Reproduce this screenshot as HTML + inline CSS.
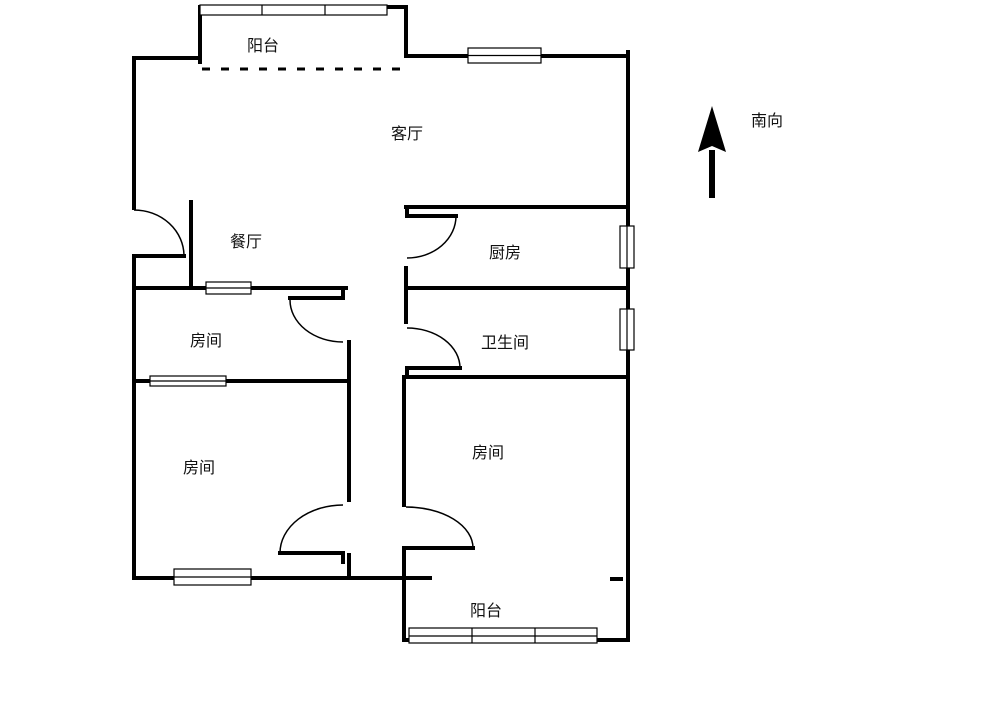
<!DOCTYPE html>
<html><head><meta charset="utf-8"><style>
html,body{margin:0;padding:0;background:#fff;}
svg{display:block}
text{font-family:"Liberation Sans","Noto Sans CJK SC",sans-serif;font-size:16px;fill:#111;}
</style></head><body>
<svg width="1000" height="716" viewBox="0 0 1000 716" xmlns="http://www.w3.org/2000/svg">
<g stroke="#000" stroke-width="4" fill="none" stroke-linecap="square">
<!-- top balcony -->
<line x1="200" y1="7" x2="200" y2="62"/>
<line x1="406" y1="7" x2="406" y2="56"/>
<line x1="386" y1="7" x2="406" y2="7"/>
<!-- main top -->
<line x1="134" y1="58" x2="200" y2="58"/>
<line x1="406" y1="56" x2="628" y2="56"/>
<line x1="628" y1="52" x2="628" y2="640"/>
<!-- left wall -->
<line x1="134" y1="58" x2="134" y2="208"/>
<line x1="134" y1="256" x2="184" y2="256"/>
<line x1="134" y1="256" x2="134" y2="578"/>
<line x1="191" y1="202" x2="191" y2="288"/>
<line x1="134" y1="288" x2="346" y2="288"/>
<line x1="290" y1="298" x2="343" y2="298"/>
<line x1="343" y1="288" x2="343" y2="298"/>
<line x1="349" y1="342" x2="349" y2="500"/>
<line x1="134" y1="381" x2="348" y2="381"/>
<line x1="280" y1="553" x2="343" y2="553"/>
<line x1="343" y1="553" x2="343" y2="562"/>
<line x1="349" y1="555" x2="349" y2="578"/>
<line x1="134" y1="578" x2="430" y2="578"/>
<!-- right side -->
<line x1="406" y1="207" x2="628" y2="207"/>
<line x1="407" y1="207" x2="407" y2="216"/>
<line x1="407" y1="216" x2="456" y2="216"/>
<line x1="406" y1="268" x2="406" y2="322"/>
<line x1="406" y1="288" x2="628" y2="288"/>
<line x1="407" y1="368" x2="460" y2="368"/>
<line x1="407" y1="368" x2="407" y2="376"/>
<line x1="404" y1="377" x2="628" y2="377"/>
<line x1="404" y1="377" x2="404" y2="505"/>
<line x1="407" y1="548" x2="473" y2="548"/>
<line x1="404" y1="548" x2="404" y2="640"/>
<line x1="404" y1="640" x2="628" y2="640"/>
<line x1="612" y1="579" x2="621" y2="579"/>
</g>
<!-- dashed line -->
<line x1="202" y1="69" x2="406" y2="69" stroke="#000" stroke-width="3" stroke-dasharray="8,11"/>
<!-- door arcs -->
<g stroke="#000" stroke-width="1.5" fill="none">
<path d="M134 210 A50 46 0 0 1 184 256"/>
<path d="M290 300 A53 42 0 0 0 343 342"/>
<path d="M280 553 A63 48 0 0 1 343 505"/>
<path d="M456 216 A49 42 0 0 1 407 258"/>
<path d="M407 328 A53 40 0 0 1 460 368"/>
<path d="M406 507 A67 41 0 0 1 473 548"/>
</g>
<!-- windows -->
<g stroke="#000" stroke-width="1.2" fill="#fff">
<rect x="200" y="5" width="187" height="10"/>
<line x1="262" y1="5" x2="262" y2="15"/><line x1="325" y1="5" x2="325" y2="15"/>
<rect x="468" y="48" width="73" height="15"/>
<line x1="468" y1="55.5" x2="541" y2="55.5"/>
<rect x="206" y="282" width="45" height="12"/>
<line x1="206" y1="288" x2="251" y2="288"/>
<rect x="150" y="376" width="76" height="10"/>
<line x1="150" y1="381" x2="226" y2="381"/>
<rect x="174" y="569" width="77" height="16"/>
<line x1="174" y1="577" x2="251" y2="577"/>
<rect x="620" y="226" width="14" height="42"/>
<line x1="627" y1="226" x2="627" y2="268"/>
<rect x="620" y="309" width="14" height="41"/>
<line x1="627" y1="309" x2="627" y2="350"/>
<rect x="409" y="628" width="188" height="15"/>
<line x1="409" y1="636" x2="597" y2="636"/>
<line x1="472" y1="628" x2="472" y2="643"/><line x1="535" y1="628" x2="535" y2="643"/>
</g>
<!-- arrow -->
<rect x="709" y="150" width="6" height="48" fill="#000"/>
<polygon points="712,106 698,152 712,146 726,152" fill="#000"/>
<!-- labels -->
<text x="247" y="51">阳台</text>
<text x="391" y="139">客厅</text>
<text x="230" y="247">餐厅</text>
<text x="489" y="258">厨房</text>
<text x="190" y="346">房间</text>
<text x="481" y="348">卫生间</text>
<text x="183" y="473">房间</text>
<text x="472" y="458">房间</text>
<text x="470" y="616">阳台</text>
<text x="751" y="126">南向</text>
</svg>
</body></html>
